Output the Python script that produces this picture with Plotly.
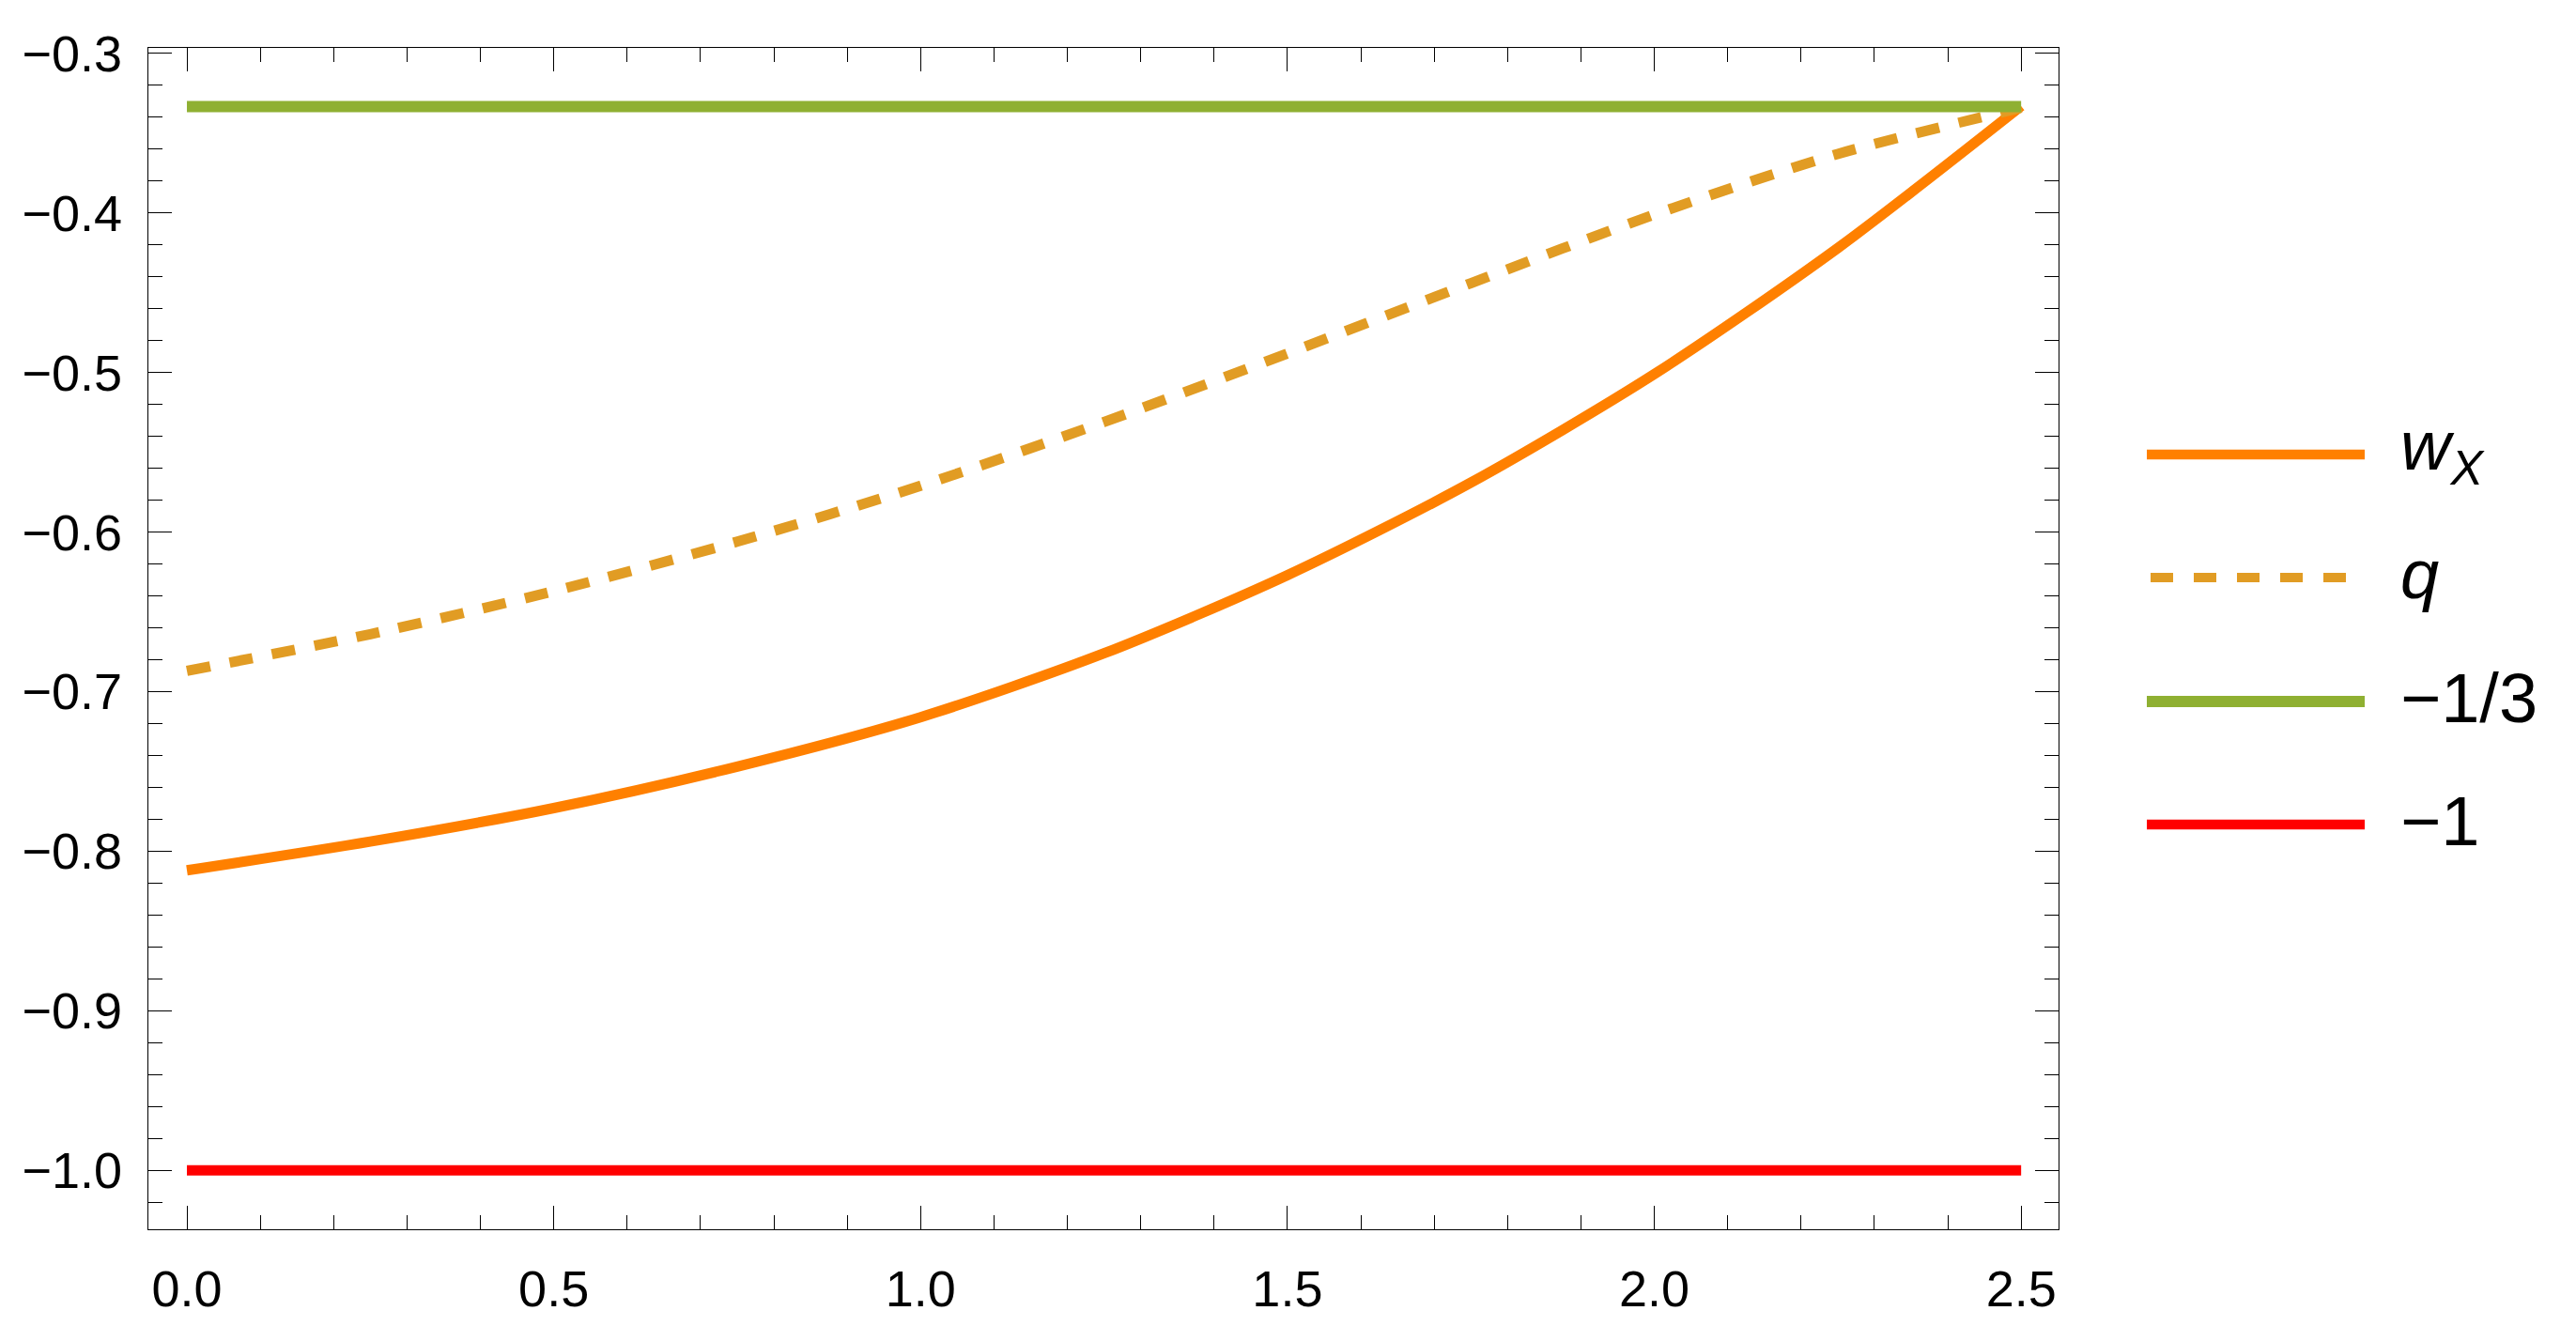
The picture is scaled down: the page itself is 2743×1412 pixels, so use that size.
import plotly.graph_objects as go

# ---- data ----
x_vals = [0.0, 0.25, 0.5, 0.75, 1.0, 1.25, 1.5, 1.75, 2.0, 2.25, 2.5]
w_x_vals = [-0.812, -0.794, -0.773, -0.747, -0.716, -0.676, -0.627, -0.569, -0.501, -0.422, -0.333]
q_vals = [-0.687, -0.664, -0.637, -0.606, -0.571, -0.531, -0.488, -0.444, -0.401, -0.363, -0.334]
const_x = [0.0, 2.5]
third_vals = [-1/3, -1/3]
minus_one_vals = [-1.0, -1.0]

series_names = ["<i>w</i><sub><i>X</i></sub>", "<i>q</i>", "\u22121/3", "\u22121"]
x_tick_vals = [0.0, 0.5, 1.0, 1.5, 2.0, 2.5]
y_tick_vals = [-1.0, -0.9, -0.8, -0.7, -0.6, -0.5, -0.4, -0.3]

# ---- style ----
C_WX = "#FF8000"
C_Q = "#E19C24"
C_GREEN = "#8FB032"
C_RED = "#FF0000"
LW = 11
FONT = "Liberation Sans, Arial, sans-serif"

W, H = 2743, 1412
OFF = 8  # page body margin offset
L, T = 158 - OFF, 51 - OFF
R, B = W - (2192 - OFF), H - (1309 - OFF)

fig = go.Figure()
fig.add_trace(go.Scatter(x=x_vals, y=w_x_vals, mode="lines", name=series_names[0],
                         line=dict(color=C_WX, width=LW, shape="spline", smoothing=0.8)))
fig.add_trace(go.Scatter(x=x_vals, y=q_vals, mode="lines", name=series_names[1],
                         line=dict(color=C_Q, width=LW, dash="25px,21px", shape="spline", smoothing=0.8)))
fig.add_trace(go.Scatter(x=const_x, y=third_vals, mode="lines", name=series_names[2],
                         line=dict(color=C_GREEN, width=12)))
fig.add_trace(go.Scatter(x=const_x, y=minus_one_vals, mode="lines", name=series_names[3],
                         line=dict(color=C_RED, width=LW)))

axis_common = dict(
    showgrid=False, zeroline=False, showline=True, linecolor="black", linewidth=1.4,
    mirror="allticks", ticks="inside", ticklen=25, tickwidth=1.4, tickcolor="black",
    tickfont=dict(family=FONT, size=54, color="black"), automargin=False,
)

fig.update_xaxes(range=[-0.0525, 2.551], tickvals=x_tick_vals, tickformat=".1f",
                 minor=dict(dtick=0.1, ticklen=15, tickwidth=1.4, tickcolor="black", ticks="inside", showgrid=False),
                 ticklabelstandoff=16, **axis_common)
fig.update_yaxes(range=[-1.037, -0.2965], tickvals=y_tick_vals, tickformat=".1f",
                 minor=dict(dtick=0.02, ticklen=15, tickwidth=1.4, tickcolor="black", ticks="inside", showgrid=False),
                 ticklabelstandoff=16, **axis_common)

# ---- manual legend (paper coordinates, from screen pixels) ----
pw = W - L - R
ph = H - T - B
def px_x(p):
    return (p - OFF - L) / pw
def px_y(p):
    return (H - B - (p - OFF)) / ph

leg_y = [484, 615, 747, 878]
leg_colors = [C_WX, C_Q, C_GREEN, C_RED]
leg_dash = ["solid", "24px,22px", "solid", "solid"]
leg_width = [10.5, 10, 12, 10.5]
for i in range(4):
    x0, x1 = (2286, 2518) if i != 1 else (2290, 2499)
    fig.add_shape(type="line", xref="paper", yref="paper",
                  x0=px_x(x0), x1=px_x(x1), y0=px_y(leg_y[i]), y1=px_y(leg_y[i]),
                  line=dict(color=leg_colors[i], width=leg_width[i], dash=leg_dash[i]))
    fig.add_annotation(xref="paper", yref="paper", x=px_x(2554), y=px_y(leg_y[i] - 4),
                       xanchor="left", yanchor="middle", showarrow=False,
                       text=series_names[i], font=dict(family=FONT, size=74, color="black"))

fig.update_layout(
    width=W, height=H, showlegend=False,
    margin=dict(l=L, r=R, t=T, b=B, pad=0, autoexpand=False),
    plot_bgcolor="white", paper_bgcolor="white",
)

fig.write_html("out.html")
